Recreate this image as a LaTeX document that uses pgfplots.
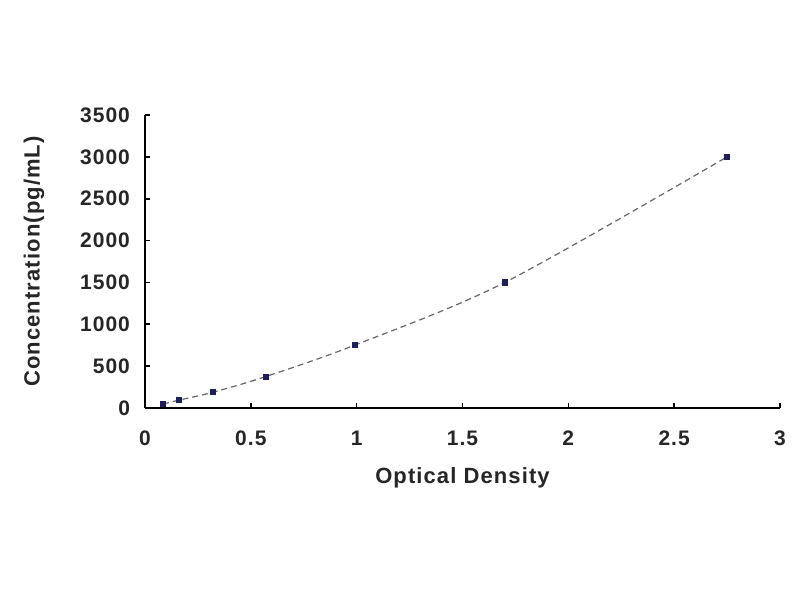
\documentclass[border=0pt]{standalone}
\usepackage{pgfplots}
\pgfplotsset{compat=1.18}
\usepackage{fontspec}
\setmainfont{Liberation Sans}
\newfontfamily\lblfont[LetterSpace=5]{Liberation Sans}
\begin{document}
\begin{tikzpicture}
\useasboundingbox[fill=white] (0pt,0pt) rectangle (400pt,300pt);
\begin{axis}[
  at={(72.5pt,96pt)}, anchor=south west,
  scale only axis, width=317.5pt, height=146.5pt,
  xmin=0, xmax=3, ymin=0, ymax=3500,
  axis x line*=bottom, axis y line*=left,
  axis line style={line width=1pt, -},
  xtick={0,0.5,...,3}, ytick={0,500,...,3500},
  tick style={black, line width=0.8pt},
  major tick length=2.5pt,
  tick align=inside,
  /pgf/number format/assume math mode=true,
  /pgf/number format/1000 sep={},
  ticklabel style={font=\lblfont\bfseries\fontsize{10.5}{12}\selectfont, color=black!85},
  xticklabel style={yshift=-8pt},
  yticklabel style={xshift=-4pt},
  xlabel={Optical Density}, ylabel={Concentration(pg/mL)},
  label style={font=\lblfont\bfseries\fontsize{11}{13}\selectfont, color=black!85},
  xlabel style={yshift=-4pt},
  ylabel style={yshift=11pt},
  clip=false,
]
\addplot[smooth, densely dashed, color=black!60, line width=0.6pt] coordinates {
 (0.085,46.88) (0.16,93.75) (0.32,187.5) (0.57,375) (0.99,750) (1.70,1500) (2.75,3000)
};
\addplot[only marks, mark=square*, mark size=1.3pt, color={rgb,255:red,30;green,30;blue,90}] coordinates {
 (0.085,46.88) (0.16,93.75) (0.32,187.5) (0.57,375) (0.99,750) (1.70,1500) (2.75,3000)
};
\end{axis}
\end{tikzpicture}
\end{document}
